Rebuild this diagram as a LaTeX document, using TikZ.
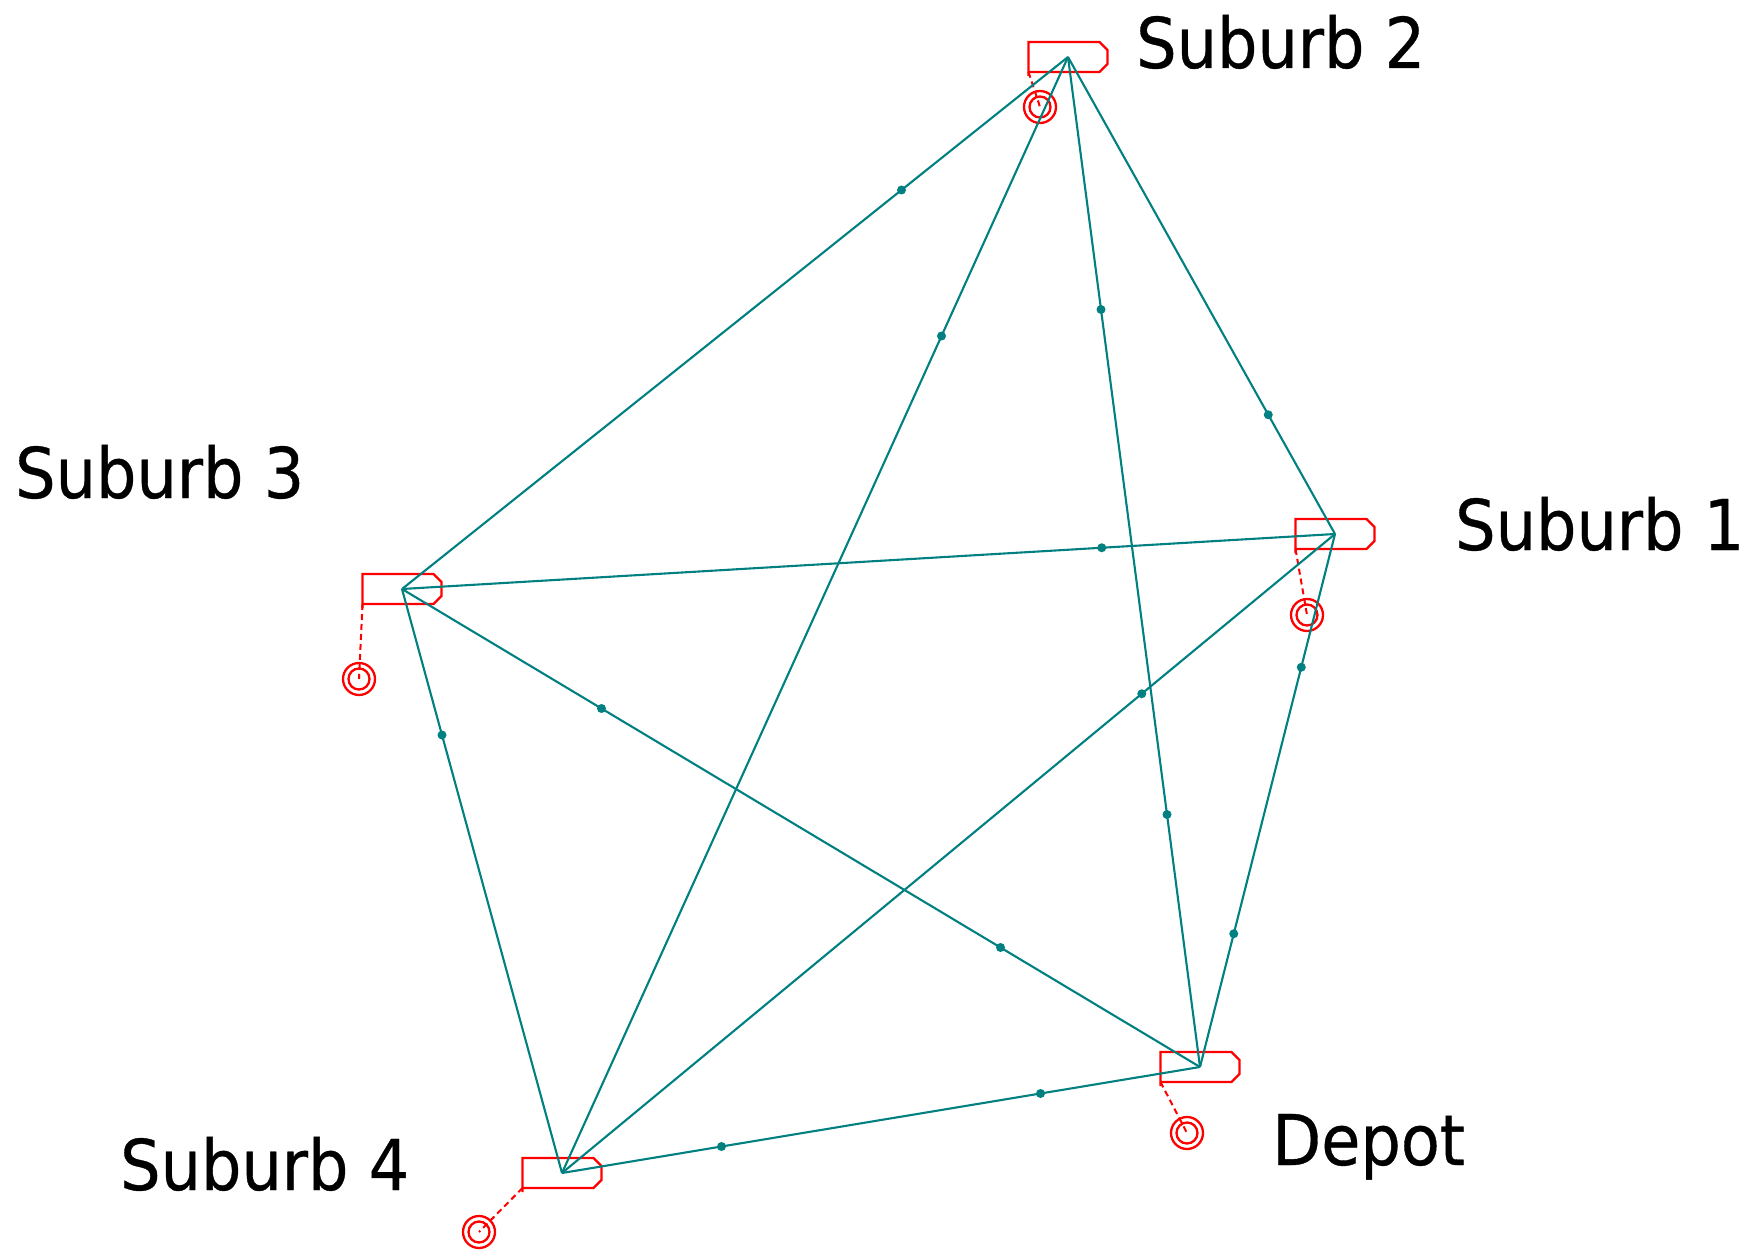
\documentclass[tikz,border=0pt]{standalone}
\usepackage{fontspec}
\newfontfamily\labelfont[FakeStretch=0.91,FakeBold=0.5]{DejaVu Sans}
\definecolor{edgeteal}{RGB}{0,128,128}
\definecolor{markred}{RGB}{255,0,0}
\tikzset{
  edge/.style={draw=edgeteal, line width=2.1pt},
  edgedot/.style={circle, fill=edgeteal, inner sep=0pt, minimum size=9pt},
  boxline/.style={draw=markred, line width=2.4pt, line join=miter},
  leader/.style={draw=markred, line width=2pt, dash pattern=on 6pt off 4pt},
  ring/.style={draw=markred, line width=2.3pt},
  lbl/.style={anchor=base west, inner sep=0pt, font=\labelfont\fontsize{70}{80}\selectfont, text=black},
}
\newcommand\placemark[3]{%
  \begin{scope}[shift={(#1)}]
    \draw[boxline] (-39.5,19) -- (-39.5,-15) -- (31.5,-15) -- (39.5,-7) -- (39.5,7) -- (31.5,15) -- (-39.5,15);
    \coordinate (#1post) at (-39.5,15);
    \coordinate (#1ring) at (#2,#3);
    \draw[leader] (#1post) -- (#1ring);
    \draw[ring] (#1ring) circle[radius=16pt];
    \draw[ring] (#1ring) circle[radius=10.5pt];
  \end{scope}}
\begin{document}
\begin{tikzpicture}[x=1pt,y=-1pt]
\useasboundingbox (0,0) rectangle (1753,1257);
\fill[white] (0,0) rectangle (1753,1257);
% vertices
\coordinate (sb2) at (1068,57);
\coordinate (sb3) at (402,589);
\coordinate (sb1) at (1335,534);
\coordinate (dep) at (1200,1067);
\coordinate (sb4) at (562,1173);
% markers
\placemark{sb2}{-28}{50}
\placemark{sb3}{-43}{90}
\placemark{sb1}{-28}{81}
\placemark{dep}{-13}{66}
\placemark{sb4}{-83}{59}
% edges
\draw[edge] (sb2) -- (sb3) node[pos=0.25, edgedot] (d1) {};
\draw[edge] (sb2) -- (sb4) node[pos=0.25, edgedot] (d2) {};
\draw[edge] (sb1) -- (sb2) node[pos=0.25, edgedot] (d3) {};
\draw[edge] (sb1) -- (sb3) node[pos=0.25, edgedot] (d4) {};
\draw[edge] (sb3) -- (sb4) node[pos=0.25, edgedot] (d5) {};
\draw[edge] (sb1) -- (sb4) node[pos=0.25, edgedot] (d6) {};
\draw[edge] (sb2) -- (dep) node[pos=0.25, edgedot] (d7) {} node[pos=0.75, edgedot] (d8) {};
\draw[edge] (sb3) -- (dep) node[pos=0.25, edgedot] (d9) {} node[pos=0.75, edgedot] (d10) {};
\draw[edge] (sb1) -- (dep) node[pos=0.25, edgedot] (d11) {} node[pos=0.75, edgedot] (d12) {};
\draw[edge] (sb4) -- (dep) node[pos=0.25, edgedot] (d13) {} node[pos=0.75, edgedot] (d14) {};
% labels
\node[lbl] (l2) at (1136,68) {Suburb 2};
\node[lbl] (l3) at (15,498) {Suburb 3};
\node[lbl] (l1) at (1455,550) {Suburb 1};
\node[lbl] (ld) at (1272,1165) {Depot};
\node[lbl] (l4) at (120,1190) {Suburb 4};
\end{tikzpicture}
\end{document}
